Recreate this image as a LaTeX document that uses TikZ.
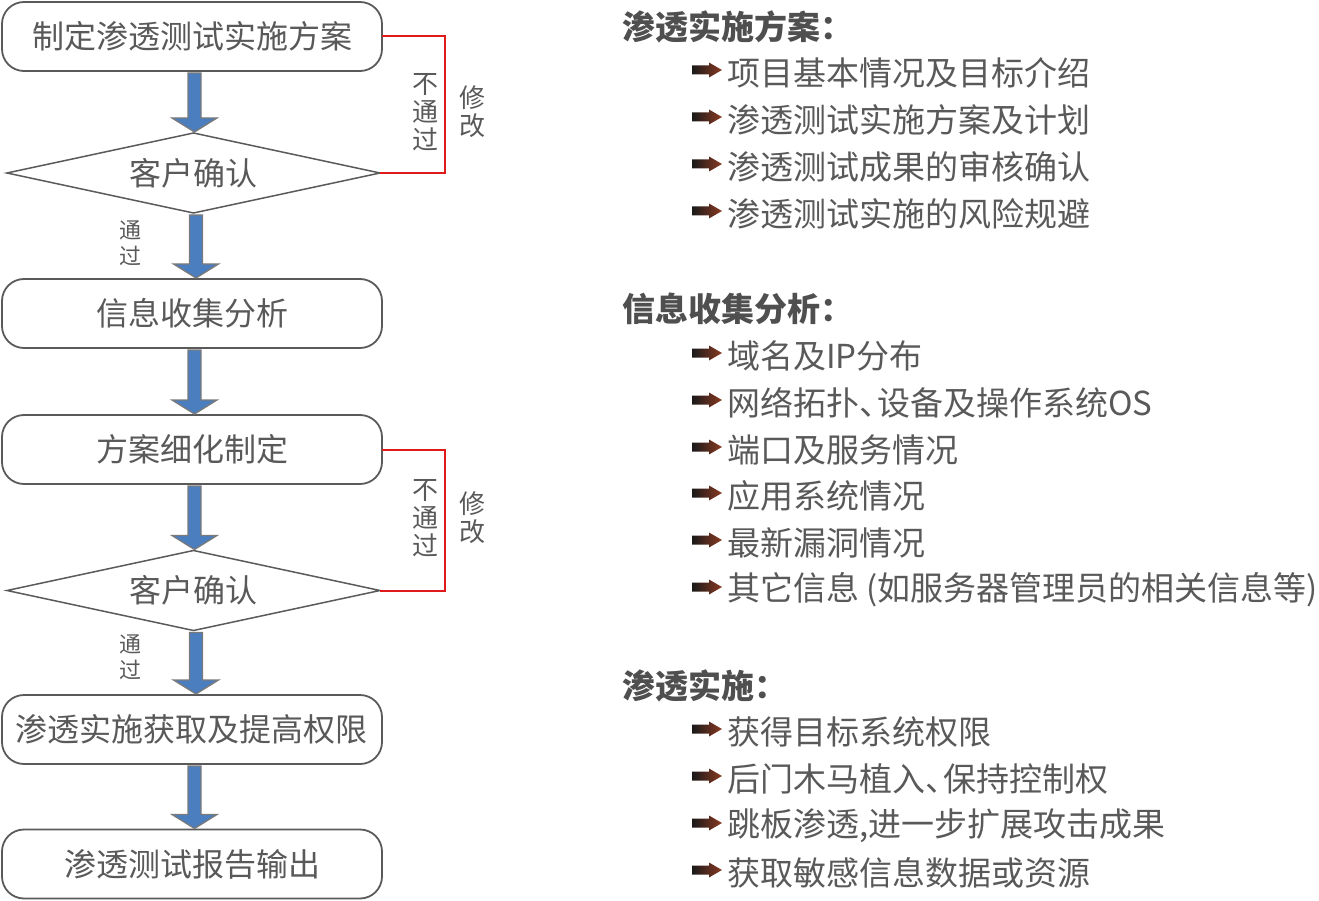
\documentclass[tikz,border=0pt]{standalone}
\usepackage{fontspec}
\setmainfont{Noto Sans CJK SC}
\usetikzlibrary{shapes.geometric,calc}
\definecolor{txt}{HTML}{595959}
\definecolor{headtxt}{HTML}{4F4F4F}
\definecolor{edge}{HTML}{5A5A5A}
\definecolor{ablue}{HTML}{4A7EBF}
\definecolor{aedge}{HTML}{7A7A7A}
\definecolor{fbred}{HTML}{E0191B}
\definecolor{icoend}{HTML}{8A3A22}
\newcommand\blockarrow[2]{%
  \draw[barrow] let \p1=(#1), \p2=(#2) in
    (\x1-4pt,\y1-2pt) -- (\x1-4pt,\y2+15pt) -- (\x1-20pt,\y2+15pt) --
    (\x1+2.5pt,\y2+1pt) -- (\x1+25pt,\y2+15pt) -- (\x1+9pt,\y2+15pt) --
    (\x1+9pt,\y1-2pt) -- cycle;}
\newcommand\dun{\makebox[0.55em][l]{、}}
\begin{document}
\begin{tikzpicture}[x=1pt,y=-1pt,
  box/.style={draw=edge, line width=1.8pt, rounded corners=22pt,
    minimum width=380pt, minimum height=69pt, inner sep=0pt, outer sep=0pt,
    font=\fontsize{32}{32}\selectfont, text=txt},
  dia/.style={diamond, draw=edge, line width=1.5pt, aspect=4.66,
    minimum width=373pt, minimum height=80pt, inner sep=0pt, outer sep=0pt,
    font=\fontsize{32}{32}\selectfont, text=txt},
  barrow/.style={fill=ablue, draw=aedge, line width=1.3pt},
  fb/.style={draw=fbred, line width=2pt},
  lab/.style={align=center, inner sep=0pt, text=txt, font=\fontsize{26}{28}\selectfont},
  labs/.style={align=center, inner sep=0pt, text=txt, font=\fontsize{22}{26}\selectfont},
  head/.style={anchor=west, inner sep=0pt, text=headtxt, font=\fontsize{33}{33}\selectfont\bfseries},
  item/.style={anchor=west, inner sep=0pt, text=txt, font=\fontsize{33}{33}\selectfont},
  ico/.style={left color=black!90, right color=icoend}
]
\useasboundingbox (0,0) rectangle (1319,901);

% left flow
\node[box] (b1) at (192,36.5) {制定渗透测试实施方案};
\node[dia] (d1) at (193.5,173) {客户确认};
\node[box] (b2) at (192,313.5) {信息收集分析};
\node[box] (b3) at (192,449.5) {方案细化制定};
\node[dia] (d2) at (193.5,590.5) {客户确认};
\node[box] (b4) at (192,729.5) {渗透实施获取及提高权限};
\node[box] (b5) at (192,864) {渗透测试报告输出};

\blockarrow{b1.south}{d1.north}
\blockarrow{d1.south}{b2.north}
\blockarrow{b2.south}{b3.north}
\blockarrow{b3.south}{d2.north}
\blockarrow{d2.south}{b4.north}
\blockarrow{b4.south}{b5.north}

\draw[fb] (b1.east) -- ++(63,0) |- (d1.east);
\draw[fb] (b3.east) -- ++(63,0) |- (d2.east);

\node[lab] (n1) at (425,112) {不\\通\\过};
\node[lab] (m1) at (472,111.5) {修\\改};
\node[labs] (p1) at (130,243) {通\\过};
\node[lab] (n2) at (425,518) {不\\通\\过};
\node[lab] (m2) at (472,517.5) {修\\改};
\node[labs] (p2) at (130,657) {通\\过};

% right text
\node[head] (h1) at (622,27) {渗透实施方案：};
\node[head] (h2) at (622,309) {信息收集分析：};
\node[head] (h3) at (622,686) {渗透实施：};

\foreach \y/\t in {73/项目基本情况及目标介绍, 120/渗透测试实施方案及计划,
  167/渗透测试成果的审核确认, 214/渗透测试实施的风险规避,
  356/域名及IP分布, 403/{网络拓扑\dun 设备及操作系统OS}, 450/端口及服务情况,
  496/应用系统情况, 543/最新漏洞情况, 590/其它信息 (如服务器管理员的相关信息等),
  732/获得目标系统权限, 779/{后门木马植入\dun 保持控制权},
  826/{跳板渗透,进一步扩展攻击成果}, 873/获取敏感信息数据或资源}{
  \shade[ico] (692,\y-7.5) -- (709,\y-7.5) -- (709,\y-10.5) -- (722,\y-3)
     -- (709,\y+4.5) -- (709,\y+1.5) -- (692,\y+1.5) -- cycle;
  \node[item] (i\y) at (727,\y) {\t};
}
\end{tikzpicture}
\end{document}
